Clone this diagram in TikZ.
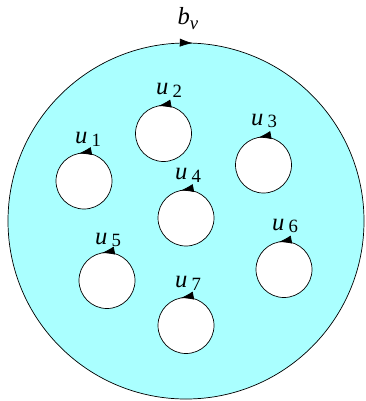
\documentclass[tikz,border=0pt]{standalone}
\usepackage{amsmath}
\usepackage{fontspec}
\setmainfont{Liberation Serif}
\usepackage{tikz}
\usetikzlibrary{arrows.meta,decorations.markings}
\definecolor{facecyan}{RGB}{170,255,255}
\tikzset{
  every picture/.style={draw=black, text=black},
  hole/.style={draw, circle, fill=white, line width=0.6pt, inner sep=0pt,
    minimum size=1.68cm, postaction={decorate},
    decoration={markings, mark=at position 0.28 with {\arrow{Latex[length=11pt,width=7pt]}}}},
  outer/.style={draw, circle, fill=facecyan, line width=0.6pt, inner sep=0pt,
    minimum size=10.68cm, postaction={decorate},
    decoration={markings, mark=at position 0.244 with {\arrowreversed{Latex[length=11pt,width=7pt]}}}},
  lbl/.style={font=\fontsize{21}{24}\selectfont, inner sep=0pt},
}
\newcommand{\lab}[2]{\textit{#1}\,\raisebox{-0.25ex}{\fontsize{16}{18}\selectfont #2}}

\begin{document}
\begin{tikzpicture}[x=0.03cm, y=-0.03cm]
\useasboundingbox (0,0) rectangle (365,401);
% outer boundary face
\node[outer] (bv) at (186,221) {};
\node[lbl] (lbv) at (188,19) {\textit{b}\raisebox{-0.45ex}{\fontsize{16}{18}\selectfont\textit{v}}};
% inner boundary circles
\node[hole] (u1) at (84,181) {};
\node[hole] (u2) at (163.5,133.5) {};
\node[hole] (u3) at (263.5,165) {};
\node[hole] (u4) at (186,218) {};
\node[hole] (u5) at (107,280.5) {};
\node[hole] (u6) at (284,269.5) {};
\node[hole] (u7) at (186,325.5) {};
% labels
\node[lbl] (lu1) at (88,139) {\lab{u}{1}};
\node[lbl] (lu2) at (169,90) {\lab{u}{2}};
\node[lbl] (lu3) at (264,121) {\lab{u}{3}};
\node[lbl] (lu4) at (188,175) {\lab{u}{4}};
\node[lbl] (lu5) at (108,240) {\lab{u}{5}};
\node[lbl] (lu6) at (285,226) {\lab{u}{6}};
\node[lbl] (lu7) at (188,283) {\lab{u}{7}};
\end{tikzpicture}
\end{document}
